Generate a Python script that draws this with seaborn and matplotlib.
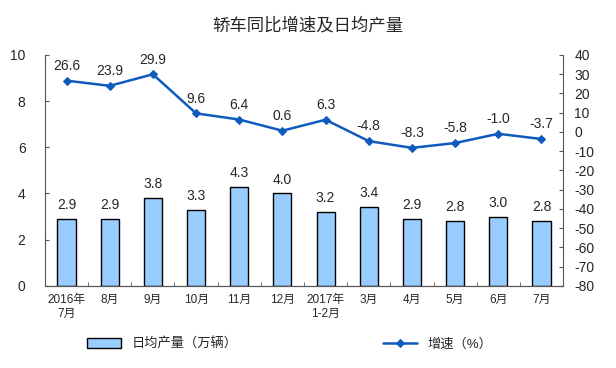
import seaborn as sns
import pandas as pd
import matplotlib.pyplot as plt

months = ["2016年\n7月", "8月", "9月", "10月", "11月", "12月", "2017年\n1-2月",
          "3月", "4月", "5月", "6月", "7月"]
output = [2.9, 2.9, 3.8, 3.3, 4.3, 4.0, 3.2, 3.4, 2.9, 2.8, 3.0, 2.8]
growth = [26.6, 23.9, 29.9, 9.6, 6.4, 0.6, 6.3, -4.8, -8.3, -5.8, -1.0, -3.7]

sns.set_style("white")
plt.rcParams["font.family"] = ["Liberation Sans", "Noto Sans CJK SC", "DejaVu Sans"]
plt.rcParams["axes.unicode_minus"] = False

df = pd.DataFrame({"month": months, "output": output, "growth": growth, "x": range(len(months))})

fig = plt.figure(figsize=(6.16, 3.68), dpi=100)
ax = fig.add_axes([0.073, 0.223, 0.841, 0.628])

sns.barplot(data=df, x="month", y="output", color="#99ccff", edgecolor="black",
            linewidth=1, width=0.42, saturation=1, ax=ax, label="日均产量（万辆）")
ax.set_ylim(0, 10)
ax.set_yticks(range(0, 11, 2))
ax.set_xlim(-0.5, len(months) - 0.5)
ax.set_xlabel("")
ax.set_ylabel("")
for i, v in enumerate(output):
    ax.text(i, v + 0.3, f"{v:.1f}", ha="center", va="bottom", fontsize=10)

ax2 = ax.twinx()
sns.lineplot(data=df, x="x", y="growth", color="#0f5bbd", marker="D", markersize=4,
             markeredgecolor="#0f5bbd", linewidth=1.8, ax=ax2, label="增速（%）", legend=False)
ax2.set_ylim(-80, 40)
ax2.set_yticks(range(-80, 41, 10))
ax2.set_ylabel("")
ax2.set_xlim(-0.5, len(months) - 0.5)
for i, v in enumerate(growth):
    ax2.text(i, v + 4, f"{v:.1f}", ha="center", va="bottom", fontsize=10)

for a in (ax, ax2):
    for s in a.spines.values():
        s.set_color("#555555")
    a.spines["top"].set_visible(False)
ax.spines["right"].set_visible(False)
ax2.spines["left"].set_visible(False)

ax.tick_params(axis="y", direction="in", length=3, left=True, labelsize=10, pad=14, color="#555555")
ax.tick_params(axis="x", length=0, labelsize=8.5, pad=6)
ax2.tick_params(axis="y", direction="in", length=3, right=True, labelsize=10, pad=8, color="#555555")
# small ticks between categories on the bottom axis
ax.set_xticks([i + 0.5 for i in range(len(months) - 1)], minor=True)
ax.tick_params(axis="x", which="minor", direction="in", length=3, bottom=True, color="#555555")

fig.suptitle("轿车同比增速及日均产量", y=0.955, fontsize=12.5)

h1, l1 = ax.get_legend_handles_labels()
h2, l2 = ax2.get_legend_handles_labels()
if ax.get_legend():
    ax.get_legend().remove()
fig.legend(h1 + h2, l1 + l2, loc="center", bbox_to_anchor=(0.47, 0.065), ncol=2,
           frameon=False, fontsize=9.5, columnspacing=11, handlelength=2.6, handleheight=0.8)

fig.savefig("out.png", dpi=100)
